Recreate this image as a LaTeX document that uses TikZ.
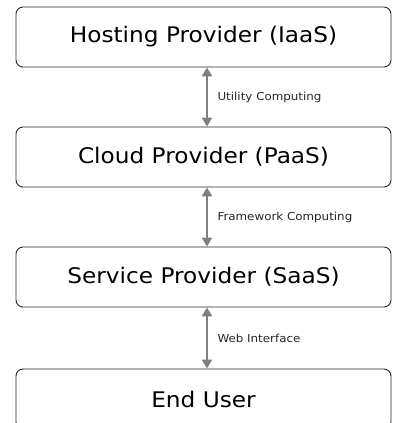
\documentclass[tikz,border=0pt]{standalone}
\usepackage{fontspec}
\setmainfont{DejaVu Sans}
\newfontfamily\widefont[FakeStretch=1.08]{DejaVu Sans}
\usetikzlibrary{arrows.meta}
\definecolor{arrowgray}{HTML}{808080}
\begin{document}
\begin{tikzpicture}[x=1pt,y=-1pt,
  layer/.style={draw=black!85,line width=0.9pt,rounded corners=7pt,minimum width=375pt,minimum height=60pt,inner sep=0pt,font=\widefont\fontsize{21.5}{24}\selectfont},
  link/.style={draw=arrowgray,line width=2.4pt,{Triangle[width=10pt,length=9pt]}-{Triangle[width=10pt,length=9pt]}},
  lbl/.style={font=\widefont\fontsize{11}{12}\selectfont,anchor=west,text=black!85}]
\useasboundingbox (0,0) rectangle (392,423);
\clip (0,0) rectangle (392,423);
\node[layer] (iaas) at (203.5,37) {Hosting Provider (IaaS)};
\node[layer] (paas) at (203.5,157) {Cloud Provider (PaaS)};
\node[layer] (saas) at (203.5,277) {Service Provider (SaaS)};
\node[layer] (user) at (203.5,399) {End User};
\draw[link] (iaas.south -| 207,0) -- (paas.north -| 207,0) node[midway,lbl,xshift=6pt] (l1) {Utility Computing};
\draw[link] (paas.south -| 207,0) -- (saas.north -| 207,0) node[midway,lbl,xshift=6pt] (l2) {Framework Computing};
\draw[link] (saas.south -| 207,0) -- (user.north -| 207,0) node[midway,lbl,xshift=6pt] (l3) {Web Interface};
\end{tikzpicture}
\end{document}
